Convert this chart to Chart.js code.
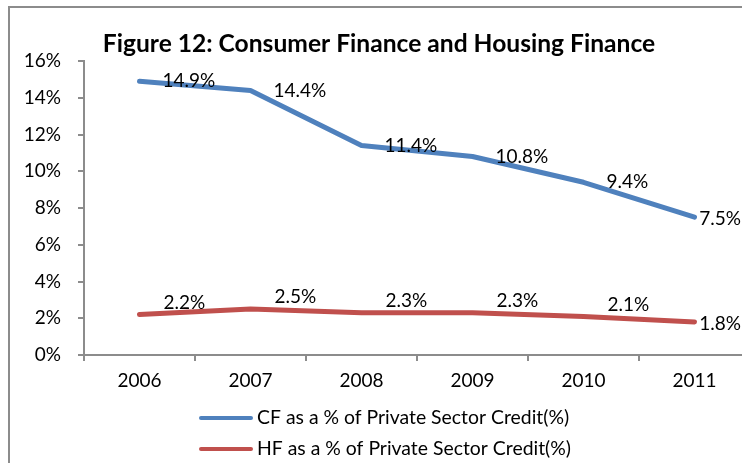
<!DOCTYPE html>
<html>
<head>
<meta charset="utf-8">
<script src="https://cdn.jsdelivr.net/npm/chart.js@4/dist/chart.umd.min.js"></script>
<style>
  html, body { margin: 0; padding: 0; background: #fff; overflow: hidden; }
  #wrap { position: relative; width: 742px; height: 463px; overflow: hidden; }
  #c { position: absolute; left: 0; top: 0; }
</style>
</head>
<body>
<div id="wrap"><canvas id="c" width="760" height="463"></canvas></div>
<script>
const categories = ['2006', '2007', '2008', '2009', '2010', '2011'];
const cfValues = [14.9, 14.4, 11.4, 10.8, 9.4, 7.5];
const hfValues = [2.2, 2.5, 2.3, 2.3, 2.1, 1.8];
const cfLabel = 'CF as a % of Private Sector Credit(%)';
const hfLabel = 'HF as a % of Private Sector Credit(%)';
const titleText = 'Figure 12: Consumer Finance and Housing Finance';
const yTickValues = [0, 2, 4, 6, 8, 10, 12, 14, 16];

const FONT = 'Lato, "Open Sans", sans-serif';
const VISIBLE_W = 742;

const extras = {
  id: 'extras',
  beforeDraw(chart) {
    const ctx = chart.ctx;
    ctx.save();
    ctx.strokeStyle = '#8c8c8c';
    ctx.lineWidth = 2;
    ctx.beginPath();
    ctx.moveTo(9, 470);
    ctx.lineTo(9, 7);
    ctx.lineTo(800, 7);
    ctx.stroke();
    ctx.restore();
  },
  afterDatasetsDraw(chart) {
    const ctx = chart.ctx;
    ctx.save();
    // data labels
    ctx.font = '19px ' + FONT;
    ctx.fillStyle = '#000';
    ctx.textAlign = 'left';
    ctx.textBaseline = 'middle';
    chart.data.datasets.forEach((ds, di) => {
      const meta = chart.getDatasetMeta(di);
      meta.data.forEach((pt, i) => {
        const txt = ds.data[i].toFixed(1) + '%';
        const w = ctx.measureText(txt).width;
        let x = pt.x + ds.labelDx;
        let y = pt.y + ds.labelDy;
        if (x + w > VISIBLE_W - 1) { x = VISIBLE_W - 1 - w; y = pt.y + 2; }
        ctx.fillText(txt, x, y);
      });
    });
    // title
    ctx.font = 'bold 24.6px ' + FONT;
    ctx.textAlign = 'center';
    ctx.textBaseline = 'middle';
    ctx.fillText(titleText, 379, 44);
    // legend
    ctx.font = '19.4px ' + FONT;
    ctx.textAlign = 'left';
    chart.data.datasets.forEach((ds, di) => {
      const y = 418 + di * 31;
      ctx.strokeStyle = ds.borderColor;
      ctx.lineWidth = 4;
      ctx.lineCap = 'round';
      ctx.beginPath();
      ctx.moveTo(201, y);
      ctx.lineTo(251, y);
      ctx.stroke();
      ctx.fillStyle = '#000';
      ctx.fillText(ds.label, 257, y);
    });
    ctx.restore();
  }
};

new Chart(document.getElementById('c'), {
  type: 'line',
  data: {
    labels: categories,
    datasets: [
      { label: cfLabel, data: cfValues, borderColor: '#4F81BD', backgroundColor: '#4F81BD',
        borderWidth: 5, pointRadius: 0, tension: 0, borderJoinStyle: 'round', borderCapStyle: 'round',
        labelDx: 23, labelDy: 0 },
      { label: hfLabel, data: hfValues, borderColor: '#C0504D', backgroundColor: '#C0504D',
        borderWidth: 5, pointRadius: 0, tension: 0, borderJoinStyle: 'round', borderCapStyle: 'round',
        labelDx: 24, labelDy: -12 }
    ]
  },
  options: {
    responsive: false,
    animation: false,
    layout: { padding: { left: 0, right: 10, top: 61, bottom: 0 } },
    plugins: { legend: { display: false }, title: { display: false }, tooltip: { enabled: false } },
    scales: {
      x: {
        type: 'category',
        offset: true,
        grid: { offset: true, drawOnChartArea: false, drawTicks: true, tickLength: 6, color: '#8c8c8c', lineWidth: 2 },
        border: { display: true, color: '#8c8c8c', width: 2 },
        ticks: { color: '#000', font: { family: FONT, size: 19 }, padding: 8 },
        afterFit(scale) { scale.height = 108; }
      },
      y: {
        min: 0, max: 16,
        afterBuildTicks(scale) { scale.ticks = yTickValues.map(v => ({ value: v })); },
        grid: { drawOnChartArea: false, drawTicks: true, tickLength: 6, color: '#8c8c8c', lineWidth: 2 },
        border: { display: true, color: '#8c8c8c', width: 2 },
        ticks: { color: '#000', font: { family: FONT, size: 19 }, padding: 17,
                 callback: v => v + '%' },
        afterFit(scale) { scale.width = 84; }
      }
    }
  },
  plugins: [extras]
});
</script>
</body>
</html>
